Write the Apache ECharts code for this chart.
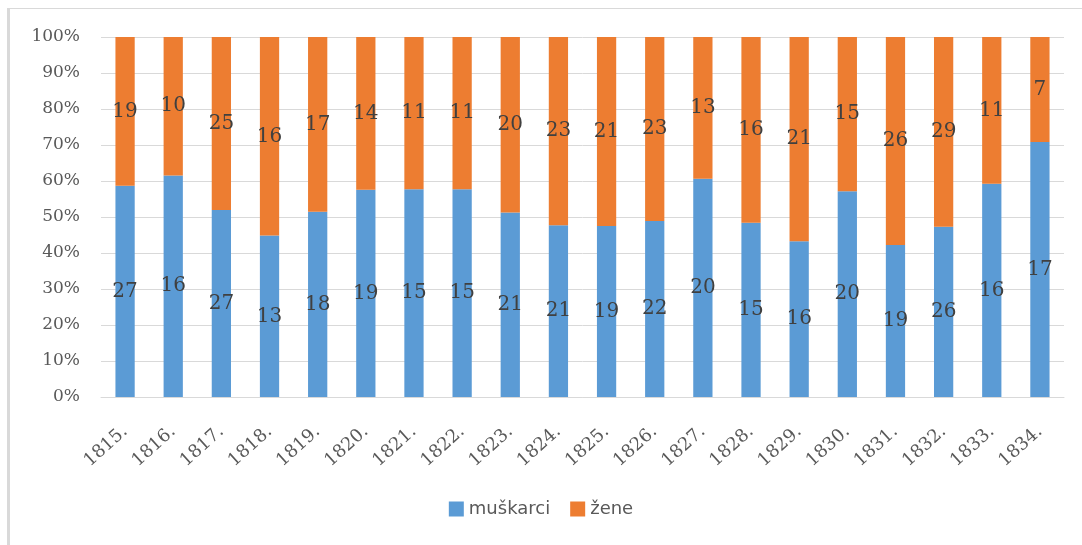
<!DOCTYPE html>
<html>
<head>
<meta charset="utf-8">
<script src="https://cdn.jsdelivr.net/npm/echarts@6/dist/echarts.min.js"></script>
<style>
  html, body { margin: 0; padding: 0; background: #fff; }
  #frame {
    position: absolute; left: 7px; top: 8px; width: 1075px; height: 537px;
    border-left: 3px solid #d9d9d9; border-top: 1px solid #d9d9d9;
  }
  #chart { position: absolute; left: 0; top: 0; width: 1082px; height: 545px; }
</style>
</head>
<body>
<div id="frame"></div>
<div id="chart"></div>
<script>
var years = ["1815.", "1816.", "1817.", "1818.", "1819.", "1820.", "1821.", "1822.", "1823.", "1824.",
             "1825.", "1826.", "1827.", "1828.", "1829.", "1830.", "1831.", "1832.", "1833.", "1834."];
var muskarci = [27, 16, 27, 13, 18, 19, 15, 15, 21, 21, 19, 22, 20, 15, 16, 20, 19, 26, 16, 17];
var zene = [19, 10, 25, 16, 17, 14, 11, 11, 20, 23, 21, 23, 13, 16, 21, 15, 26, 29, 11, 7];

// share of each year's total, for the 100% stack
function share(arr) {
  return arr.map(function (v, i) {
    return v / (muskarci[i] + zene[i]) * 100;
  });
}

var labelFont = "'DejaVu Serif', 'Liberation Serif', serif";

var myChart = echarts.init(document.getElementById("chart"));
myChart.setOption({
  animation: false,
  backgroundColor: "transparent",
  color: ["#5b9bd5", "#ed7d31"],
  grid: {
    left: 101,
    right: 18,
    top: 37,
    bottom: 148
  },
  legend: {
    bottom: 22,
    left: "center",
    itemWidth: 15,
    itemHeight: 15,
    itemGap: 20,
    icon: "rect",
    textStyle: {
      fontFamily: "'DejaVu Sans', sans-serif",
      fontSize: 18,
      color: "#595959"
    },
    data: ["muškarci", "žene"]
  },
  xAxis: {
    type: "category",
    data: years,
    axisTick: { show: false },
    axisLine: { lineStyle: { color: "#d9d9d9", width: 1 } },
    axisLabel: {
      rotate: 42,
      interval: 0,
      margin: 32,
      fontFamily: labelFont,
      fontSize: 18,
      color: "#595959"
    }
  },
  yAxis: {
    type: "value",
    min: 0,
    max: 100,
    interval: 10,
    axisLine: { show: false },
    axisTick: { show: false },
    splitLine: { lineStyle: { color: "#d9d9d9", width: 1 } },
    axisLabel: {
      formatter: "{value}%",
      margin: 21,
      fontFamily: labelFont,
      fontSize: 17,
      color: "#595959"
    }
  },
  series: [
    {
      name: "muškarci",
      type: "bar",
      stack: "all",
      barWidth: "40%",
      data: share(muskarci),
      label: {
        show: true,
        position: "inside",
        formatter: function (p) { return muskarci[p.dataIndex]; },
        fontFamily: labelFont,
        fontSize: 20,
        color: "#404040"
      }
    },
    {
      name: "žene",
      type: "bar",
      stack: "all",
      barWidth: "40%",
      data: share(zene),
      label: {
        show: true,
        position: "inside",
        formatter: function (p) { return zene[p.dataIndex]; },
        fontFamily: labelFont,
        fontSize: 20,
        color: "#404040"
      }
    }
  ]
});
</script>
</body>
</html>
